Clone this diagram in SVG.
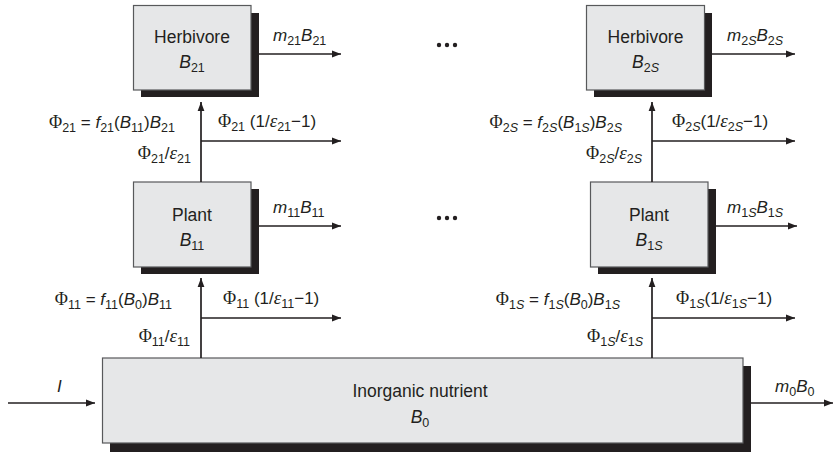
<svg xmlns="http://www.w3.org/2000/svg" width="833" height="452" viewBox="0 0 833 452">
<defs>
<style>
.box{fill:#e6e7e8;stroke:#58595b;stroke-width:1.2}
.sh{fill:#231f20}
.t{font-family:"Liberation Sans",Arial,sans-serif;font-size:17.5px;fill:#231f20}
.l{font-family:"Liberation Sans",Arial,sans-serif;font-size:17px;fill:#231f20}
.i{font-style:italic}
.p{font-family:"Liberation Serif","Times New Roman",serif;font-size:18px}
.e{font-family:"Liberation Serif","Times New Roman",serif;font-style:italic;font-size:19px}
.s{font-size:12.5px}
.ln{stroke:#231f20;stroke-width:1.7;fill:none}
.dot{fill:#231f20}
</style>
<marker id="ah" markerUnits="userSpaceOnUse" markerWidth="10" markerHeight="8" refX="9" refY="4" orient="auto">
<path d="M0,0.6 L9,4 L0,7.4 z" fill="#231f20"/>
</marker>
</defs>
<rect width="833" height="452" fill="#ffffff"/>

<g id="herbivore21">
<rect class="sh" x="141" y="13" width="118" height="84"/>
<rect class="box" x="133.5" y="5.5" width="117.5" height="84.5"/>
<text class="t" x="192" y="43" text-anchor="middle">Herbivore</text>
<text class="t" x="192" y="68" text-anchor="middle"><tspan class="i">B</tspan><tspan class="s" dy="4">21</tspan></text>
</g>

<g id="herbivore2S">
<rect class="sh" x="594" y="13" width="118" height="84"/>
<rect class="box" x="586.5" y="5.5" width="118" height="84.5"/>
<text class="t" x="645.5" y="43" text-anchor="middle">Herbivore</text>
<text class="t" x="645.5" y="68" text-anchor="middle"><tspan class="i">B</tspan><tspan class="s" dy="4">2<tspan class="i">S</tspan></tspan></text>
</g>

<g id="plant11">
<rect class="sh" x="141" y="189" width="118" height="85"/>
<rect class="box" x="133.5" y="182" width="117.5" height="85"/>
<text class="t" x="192" y="221" text-anchor="middle">Plant</text>
<text class="t" x="192" y="246" text-anchor="middle"><tspan class="i">B</tspan><tspan class="s" dy="4">11</tspan></text>
</g>

<g id="plant1S">
<rect class="sh" x="598" y="189" width="118" height="85"/>
<rect class="box" x="590.5" y="182" width="117.5" height="85"/>
<text class="t" x="649" y="221" text-anchor="middle">Plant</text>
<text class="t" x="649" y="246" text-anchor="middle"><tspan class="i">B</tspan><tspan class="s" dy="4">1<tspan class="i">S</tspan></tspan></text>
</g>

<g id="nutrient">
<rect class="sh" x="110" y="366" width="641" height="90"/>
<rect class="box" x="102.5" y="358" width="640.5" height="85"/>
<text class="t" x="420" y="397" text-anchor="middle">Inorganic nutrient</text>
<text class="t" x="420" y="423" text-anchor="middle"><tspan class="i">B</tspan><tspan class="s" dy="4">0</tspan></text>
</g>

<g id="ellipses">
<circle class="dot" cx="439" cy="45" r="2.2"/><circle class="dot" cx="447" cy="45" r="2.2"/><circle class="dot" cx="455" cy="45" r="2.2"/>
<circle class="dot" cx="439" cy="218" r="2.2"/><circle class="dot" cx="447" cy="218" r="2.2"/><circle class="dot" cx="455" cy="218" r="2.2"/>
</g>

<g id="connectors">
<line class="ln" x1="259" y1="54" x2="341" y2="54" marker-end="url(#ah)"/>
<line class="ln" x1="712" y1="54" x2="795" y2="54" marker-end="url(#ah)"/>
<line class="ln" x1="201" y1="182" x2="201" y2="102" marker-end="url(#ah)"/>
<line class="ln" x1="201" y1="141" x2="341" y2="141" marker-end="url(#ah)"/>
<line class="ln" x1="652" y1="182" x2="652" y2="102" marker-end="url(#ah)"/>
<line class="ln" x1="652" y1="141" x2="795" y2="141" marker-end="url(#ah)"/>
<line class="ln" x1="259" y1="226" x2="341" y2="226" marker-end="url(#ah)"/>
<line class="ln" x1="716" y1="226" x2="797" y2="226" marker-end="url(#ah)"/>
<line class="ln" x1="201" y1="358" x2="201" y2="278" marker-end="url(#ah)"/>
<line class="ln" x1="201" y1="318" x2="341" y2="318" marker-end="url(#ah)"/>
<line class="ln" x1="652" y1="358" x2="652" y2="278" marker-end="url(#ah)"/>
<line class="ln" x1="652" y1="318" x2="795" y2="318" marker-end="url(#ah)"/>
<line class="ln" x1="8" y1="403" x2="95" y2="403" marker-end="url(#ah)"/>
<line class="ln" x1="751" y1="403" x2="833" y2="403" marker-end="url(#ah)"/>
</g>

<g id="labels">
<text class="l" x="273" y="41"><tspan class="i">m</tspan><tspan class="s" dy="4">21</tspan><tspan class="i" dy="-4">B</tspan><tspan class="s" dy="4">21</tspan></text>
<text class="l" x="727" y="41"><tspan class="i">m</tspan><tspan class="s" dy="4">2<tspan class="i">S</tspan></tspan><tspan class="i" dy="-4">B</tspan><tspan class="s" dy="4">2<tspan class="i">S</tspan></tspan></text>
<text class="l" x="273" y="213"><tspan class="i">m</tspan><tspan class="s" dy="4">11</tspan><tspan class="i" dy="-4">B</tspan><tspan class="s" dy="4">11</tspan></text>
<text class="l" x="727" y="213"><tspan class="i">m</tspan><tspan class="s" dy="4">1<tspan class="i">S</tspan></tspan><tspan class="i" dy="-4">B</tspan><tspan class="s" dy="4">1<tspan class="i">S</tspan></tspan></text>
<text class="l" x="775" y="392"><tspan class="i">m</tspan><tspan class="s" dy="4">0</tspan><tspan class="i" dy="-4">B</tspan><tspan class="s" dy="4">0</tspan></text>
<text class="l i" x="57" y="392">I</text>

<text class="l" x="175" y="128" text-anchor="end"><tspan class="p">Φ</tspan><tspan class="s" dy="4">21</tspan><tspan dy="-4"> = </tspan><tspan class="i">f</tspan><tspan class="s" dy="4">21</tspan><tspan dy="-4">(</tspan><tspan class="i">B</tspan><tspan class="s" dy="4">11</tspan><tspan dy="-4">)</tspan><tspan class="i">B</tspan><tspan class="s" dy="4">21</tspan></text>
<text class="l" x="218" y="127"><tspan class="p">Φ</tspan><tspan class="s" dy="4">21</tspan><tspan dy="-4"> (1/</tspan><tspan class="e">ε</tspan><tspan class="s" dy="4">21</tspan><tspan dy="-4">−1)</tspan></text>
<text class="l" x="191" y="159" text-anchor="end"><tspan class="p">Φ</tspan><tspan class="s" dy="4">21</tspan><tspan dy="-4">/</tspan><tspan class="e">ε</tspan><tspan class="s" dy="4">21</tspan></text>

<text class="l" x="622" y="128" text-anchor="end"><tspan class="p">Φ</tspan><tspan class="s" dy="4">2<tspan class="i">S</tspan></tspan><tspan dy="-4"> = </tspan><tspan class="i">f</tspan><tspan class="s" dy="4">2<tspan class="i">S</tspan></tspan><tspan dy="-4">(</tspan><tspan class="i">B</tspan><tspan class="s" dy="4">1<tspan class="i">S</tspan></tspan><tspan dy="-4">)</tspan><tspan class="i">B</tspan><tspan class="s" dy="4">2<tspan class="i">S</tspan></tspan></text>
<text class="l" x="672" y="127"><tspan class="p">Φ</tspan><tspan class="s" dy="4">2<tspan class="i">S</tspan></tspan><tspan dy="-4">(1/</tspan><tspan class="e">ε</tspan><tspan class="s" dy="4">2<tspan class="i">S</tspan></tspan><tspan dy="-4">−1)</tspan></text>
<text class="l" x="642" y="159" text-anchor="end"><tspan class="p">Φ</tspan><tspan class="s" dy="4">2<tspan class="i">S</tspan></tspan><tspan dy="-4">/</tspan><tspan class="e">ε</tspan><tspan class="s" dy="4">2<tspan class="i">S</tspan></tspan></text>

<text class="l" x="172" y="305" text-anchor="end"><tspan class="p">Φ</tspan><tspan class="s" dy="4">11</tspan><tspan dy="-4"> = </tspan><tspan class="i">f</tspan><tspan class="s" dy="4">11</tspan><tspan dy="-4">(</tspan><tspan class="i">B</tspan><tspan class="s" dy="4">0</tspan><tspan dy="-4">)</tspan><tspan class="i">B</tspan><tspan class="s" dy="4">11</tspan></text>
<text class="l" x="223" y="304"><tspan class="p">Φ</tspan><tspan class="s" dy="4">11</tspan><tspan dy="-4"> (1/</tspan><tspan class="e">ε</tspan><tspan class="s" dy="4">11</tspan><tspan dy="-4">−1)</tspan></text>
<text class="l" x="190" y="342" text-anchor="end"><tspan class="p">Φ</tspan><tspan class="s" dy="4">11</tspan><tspan dy="-4">/</tspan><tspan class="e">ε</tspan><tspan class="s" dy="4">11</tspan></text>

<text class="l" x="620" y="305" text-anchor="end"><tspan class="p">Φ</tspan><tspan class="s" dy="4">1<tspan class="i">S</tspan></tspan><tspan dy="-4"> = </tspan><tspan class="i">f</tspan><tspan class="s" dy="4">1<tspan class="i">S</tspan></tspan><tspan dy="-4">(</tspan><tspan class="i">B</tspan><tspan class="s" dy="4">0</tspan><tspan dy="-4">)</tspan><tspan class="i">B</tspan><tspan class="s" dy="4">1<tspan class="i">S</tspan></tspan></text>
<text class="l" x="676" y="304"><tspan class="p">Φ</tspan><tspan class="s" dy="4">1<tspan class="i">S</tspan></tspan><tspan dy="-4">(1/</tspan><tspan class="e">ε</tspan><tspan class="s" dy="4">1<tspan class="i">S</tspan></tspan><tspan dy="-4">−1)</tspan></text>
<text class="l" x="643" y="342" text-anchor="end"><tspan class="p">Φ</tspan><tspan class="s" dy="4">1<tspan class="i">S</tspan></tspan><tspan dy="-4">/</tspan><tspan class="e">ε</tspan><tspan class="s" dy="4">1<tspan class="i">S</tspan></tspan></text>
</g>
</svg>
